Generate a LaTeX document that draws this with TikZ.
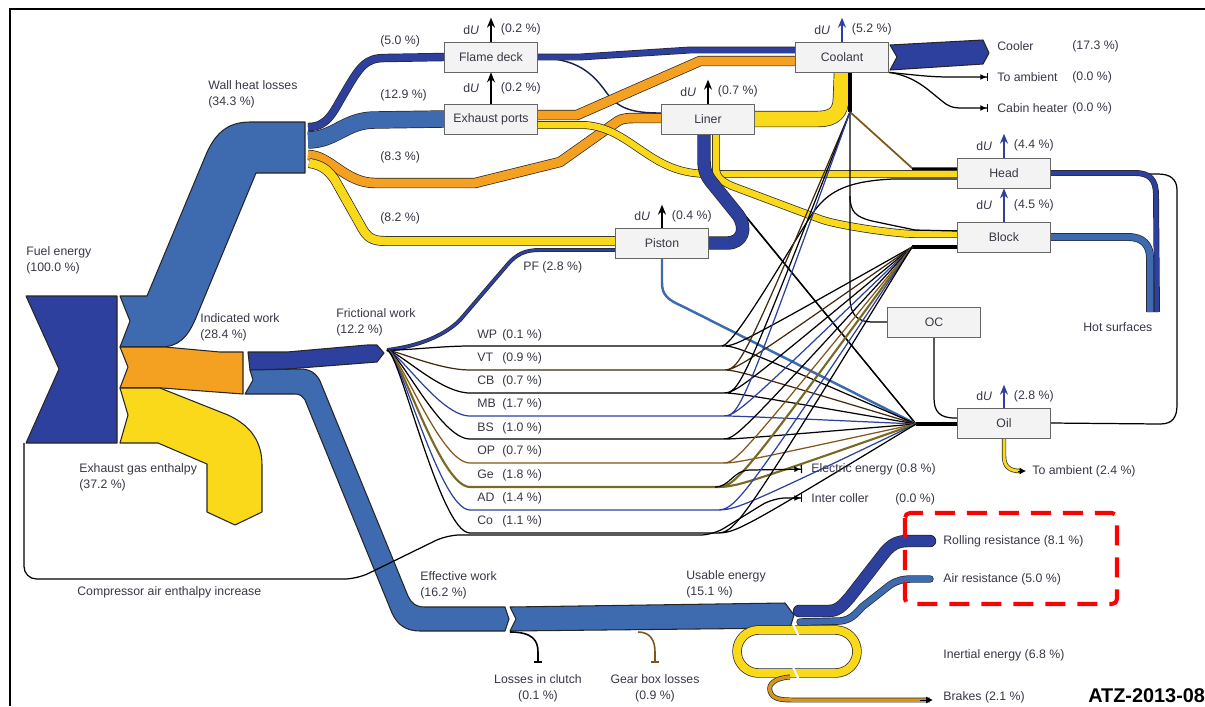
\documentclass[tikz,border=0pt]{standalone}
\usepackage{fontspec}
\setmainfont{Liberation Sans}
\usetikzlibrary{
    arrows.meta, % for the arrow and bar tips
    backgrounds  % the flows lie behind the part boxes
}

\definecolor{fuelblue}{RGB}{45,64,158}
\definecolor{wallblue}{RGB}{62,106,176}
\definecolor{workorange}{RGB}{244,160,33}
\definecolor{gasyellow}{RGB}{250,216,26}
\definecolor{brakeorange}{RGB}{214,150,30}
\definecolor{lossbrown}{RGB}{130,85,25}
\definecolor{oliveline}{RGB}{120,105,35}
\definecolor{labelgray}{RGB}{55,55,70}
\definecolor{boxgray}{RGB}{243,243,243}

\begin{document}
\begin{tikzpicture}[
    x=0.2mm,y=-0.2mm,font=\fontsize{7}{9}\selectfont,text=labelgray,
    part/.style        = {draw=black!60,fill=boxgray,minimum width=18.6mm,minimum height=6mm,inner sep=0pt},
    lbl/.style         = {anchor=west,inner sep=0pt,align=left},
    flow/.style        = {draw=black!85,line width=0.6pt,fill=#1,line join=round},
    band/.style 2 args = {draw=black!85,line width=0.4pt,double=#1,double distance=#2,line join=round},
    wire/.style        = {draw=#1,line width=0.7pt},
    wire/.default      = black,
    du/.style          = {draw=#1,line width=1.1pt,-{Stealth[length=2mm,width=1.6mm]}},
    duleft/.style      = {midway,anchor=east,inner sep=0pt,xshift=-2.2mm},
    duright/.style     = {midway,anchor=west,inner sep=0pt,xshift=1.8mm},
    endtip/.style      = {-{Latex[length=1.3mm,width=1.2mm]Bar[width=1.6mm]}},
    bartip/.style      = {-{Bar[width=1.6mm]}}
]
\useasboundingbox (0,0) rectangle (1205,706);

% engine parts

    \node [part] (flame)   at (491,57)  {Flame deck};
    \node [part] (exports) at (491,119) {Exhaust ports};
    \node [part] (liner)   at (708,119) {Liner};
    \node [part] (coolant) at (842,57)  {Coolant};
    \node [part] (piston)  at (662,243) {Piston};
    \node [part] (head)    at (1004,173) {Head};
    \node [part] (block)   at (1004,237) {Block};
    \node [part] (oc)      at (934,322) {OC};
    \node [part] (oil)     at (1004,423) {Oil};

    \draw [du=black]    (flame.north) -- ++(0,-24)
        node [duleft] {d\textit{U}} node [duright] {(0.2 \%)};
    \draw [du=black]    (exports.north) -- (flame.south)
        node [duleft] {d\textit{U}} node [duright] {(0.2 \%)};
    \draw [du=black]    (liner.north) -- ++(0,-24)
        node [duleft] {d\textit{U}} node [duright] {(0.7 \%)};
    \draw [du=fuelblue] (coolant.north) -- ++(0,-24)
        node [duleft] {d\textit{U}} node [duright] {(5.2 \%)};
    \draw [du=black]    (piston.north) -- ++(0,-23)
        node [duleft] {d\textit{U}} node [duright] {(0.4 \%)};
    \draw [du=fuelblue] (head.north) -- ++(0,-24)
        node [duleft] {d\textit{U}} node [duright] {(4.4 \%)};
    \draw [du=fuelblue] (block.north) -- (head.south)
        node [duleft] {d\textit{U}} node [duright] {(4.5 \%)};
    \draw [du=fuelblue] (oil.north) -- ++(0,-23)
        node [duleft] {d\textit{U}} node [duright] {(2.8 \%)};

% labels

    \node [lbl]         at (26,260)   {Fuel energy\\(100.0 \%)};
    \node [lbl]         at (208,94)   {Wall heat losses\\(34.3 \%)};
    \node [lbl]         at (380,41)   {(5.0 \%)};
    \node [lbl]         at (380,95)   {(12.9 \%)};
    \node [lbl]         at (380,157)  {(8.3 \%)};
    \node [lbl]         at (380,218)  {(8.2 \%)};
    \node [lbl]         at (200,327)  {Indicated work\\(28.4 \%)};
    \node [lbl]         at (336,322)  {Frictional work\\(12.2 \%)};
    \node [lbl]         at (79,477)   {Exhaust gas enthalpy\\(37.2 \%)};
    \node [lbl]         at (77,592)   {Compressor air enthalpy increase};
    \node [lbl]         at (420,585)  {Effective work\\(16.2 \%)};
    \node [lbl]         at (686,584)  {Usable energy\\(15.1 \%)};
    \node [lbl]         at (523,267)  {PF (2.8 \%)};
    \node [lbl]         at (1083,327) {Hot surfaces};
    \node [lbl] (cooler)   at (997,46)  {Cooler};
    \node [lbl]            at (1072,46) {(17.3 \%)};
    \node [lbl] (ambient)  at (997,77)  {To ambient};
    \node [lbl]            at (1072,77) {(0.0 \%)};
    \node [lbl] (cabin)    at (997,108) {Cabin heater};
    \node [lbl]            at (1072,108) {(0.0 \%)};
    \node [lbl] (electric) at (811,469) {Electric energy (0.8 \%)};
    \node [lbl] (intercooler) at (811,498) {Inter coller};
    \node [lbl]            at (895,499) {(0.0 \%)};
    \node [lbl] (oilamb)   at (1032,471) {To ambient (2.4 \%)};
    \node [lbl] (rolling)  at (943,541) {Rolling resistance (8.1 \%)};
    \node [lbl] (air)      at (943,579) {Air resistance (5.0 \%)};
    \node [lbl] (inertial) at (943,655) {Inertial energy (6.8 \%)};
    \node [lbl] (brakes)   at (943,697) {Brakes (2.1 \%)};
    \node [align=center,inner sep=0pt] (clutch)  at (538,688) {Losses in clutch\\(0.1 \%)};
    \node [align=center,inner sep=0pt] (gearbox) at (655,688) {Gear box losses\\(0.9 \%)};

    \node [lbl] at (477,335) {\makebox[5mm][l]{WP}(0.1 \%)};
    \node [lbl] at (477,358) {\makebox[5mm][l]{VT}(0.9 \%)};
    \node [lbl] at (477,381) {\makebox[5mm][l]{CB}(0.7 \%)};
    \node [lbl] at (477,404) {\makebox[5mm][l]{MB}(1.7 \%)};
    \node [lbl] at (477,428) {\makebox[5mm][l]{BS}(1.0 \%)};
    \node [lbl] at (477,451) {\makebox[5mm][l]{OP}(0.7 \%)};
    \node [lbl] at (477,475) {\makebox[5mm][l]{Ge}(1.8 \%)};
    \node [lbl] at (477,498) {\makebox[5mm][l]{AD}(1.4 \%)};
    \node [lbl] at (477,521) {\makebox[5mm][l]{Co}(1.1 \%)};

    \node [anchor=base west,inner sep=0pt,text=black,font=\fontsize{11.3}{12}\selectfont\bfseries] at (1088,702) {ATZ-2013-08};

    \coordinate (fric)     at (387,350);
    \coordinate (coolstem) at (850,112);
    \coordinate (blockfan) at (912,247);
    \coordinate (oilfan)   at (916,424);

\begin{scope}[on background layer]

% frame
    \draw [line width=0.9pt] (10,706) |- (1205,9);

% main flows
    \draw [flow=fuelblue]   (26,296) -- (117,296) -- (117,443) -- (26,443) -- (59,369) -- cycle;
    \draw [flow=wallblue]   (120,296) -- (147,296) -- (205,157) .. controls (214,135) and (226,122) .. (250,122)
        -- (305,122) -- (305,173) -- (256,173) -- (195,320) .. controls (187,338) and (178,347) .. (160,347)
        -- (120,347) -- (130,321) -- cycle;
    \draw [flow=workorange] (120,347) -- (165,347) -- (220,352) -- (243,352) -- (243,394) -- (162,388)
        -- (120,388) -- (128,367) -- cycle;
    \draw [flow=gasyellow]  (120,388) -- (160,388) -- (228,415) .. controls (252,426) and (262,443) .. (262,465)
        -- (262,512) -- (235,525) -- (207,512) -- (207,464) -- (158,443) -- (120,443) -- (128,415) -- cycle;
    \draw [flow=fuelblue]   (248,352) -- (287,352) -- (367,345) -- (377,345) -- (384,353) -- (377,362)
        -- (287,369) -- (250,370) -- cycle;
    \draw [flow=wallblue]   (250,370) -- (300,369) .. controls (310,369) and (316,373) .. (320,381)
        -- (408,596) .. controls (412,604) and (416,607) .. (425,607) -- (505,607) -- (509,619) -- (505,631)
        -- (420,631) .. controls (405,631) and (397,624) .. (392,613) -- (305,400)
        .. controls (302,396) and (300,394) .. (295,394) -- (245,394) -- (253,380) -- cycle;
    \draw [flow=wallblue]   (510,607) -- (785,603) -- (794,615) -- (790,628) -- (510,631) -- (516,619) -- cycle;
    \draw [flow=fuelblue]   (890,45) -- (983,40) -- (989,53) -- (983,64) -- (890,70) -- (897,57) -- cycle;

% wall heat to the parts
    \draw [band={fuelblue}{1.4mm}]   (308,127) .. controls (328,127) and (333,112) .. (345,92)
        .. controls (360,66) and (366,58) .. (385,58) -- (flame.west);
    \draw [band={wallblue}{3.2mm}]   (308,140) .. controls (335,140) and (345,120) .. (375,120) -- (exports.west);
    \draw [band={workorange}{1.8mm}] (308,155) .. controls (330,155) and (345,183) .. (375,183) -- (475,183)
        -- (560,162) -- (618,121) .. controls (623,118) and (628,118) .. (640,118) -- (liner.west |- 0,118);
    \draw [band={gasyellow}{1.7mm}]  (309,163) .. controls (322,165) and (328,170) .. (335,180) -- (362,228)
        .. controls (367,237) and (372,241) .. (385,241) -- (piston.west |- 0,241);

% between the parts
    \draw [wire=fuelblue!50!black,line width=0.8pt] (flame.east |- 0,58) .. controls (575,58) and (592,72) .. (606,92)
        .. controls (618,108) and (630,113) .. (liner.west |- 0,113);
    \draw [band={fuelblue}{1.1mm}]   (flame.east) -- (580,57) -- (690,50) -- (coolant.west |- 0,50);
    \draw [band={workorange}{1.8mm}] (exports.east |- 0,115) -- (577,115) -- (700,61) -- (coolant.west |- 0,61);
    \draw [band={gasyellow}{1.3mm}]  (exports.east |- 0,125) -- (585,125) .. controls (612,127) and (628,142) .. (650,156)
        .. controls (672,170) and (688,174) .. (712,174) -- (head.west |- 0,174);
    \draw [band={gasyellow}{3mm}]    (liner.east) -- (818,119) .. controls (834,119) and (841,112) .. (841,98)
        -- (coolant.south);
    \draw [wire] (liner.south -| 709,0) -- (709,172) -- (oilfan);
    \draw [wire] (liner.south -| 713,0) -- (713,176) -- (oilfan);
    \draw [band={gasyellow}{1.3mm}]  (liner.south -| 716,0) -- (716,168) .. controls (716,177) and (721,181) .. (732,186)
        -- (820,219) .. controls (835,225) and (895,234) .. (915,234) -- (block.west |- 0,234);
    \draw [band={fuelblue}{2.4mm}]   (piston.east) -- (727,243) .. controls (743,243) and (747,228) .. (738,215)
        -- (713,184) .. controls (706,176) and (704,170) .. (704,160) -- (liner.south -| 704,0);
    \draw [wire=wallblue,line width=1.4pt] (piston.south) -- (662,283) .. controls (662,295) and (668,300) .. (682,306)
        -- (oilfan);

% coolant side
    \draw [line width=2pt] (coolant.south -| 850,0) -- (coolstem);
    \draw [wire] (coolstem) -- (850,298) .. controls (850,315) and (858,322) .. (872,322) -- (oc.west);
    \draw [wire] (850,196) .. controls (850,212) and (856,217) .. (872,221) -- (915,230) -- (block.west |- 0,231);
    \draw [wire=lossbrown,line width=1pt] (coolstem) -- (912,168) -- (head.west |- 0,168);
    \draw [line width=1.6pt] (912,169) -- (head.west |- 0,169);
    \draw [wire,endtip,shorten >=1.8mm] (coolant.south east) .. controls (915,75) and (930,77) .. (950,77) -- (ambient.west);
    \draw [wire,endtip,shorten >=1.8mm] (coolant.south east) .. controls (915,76) and (928,90) .. (942,101)
        .. controls (948,106) and (952,108) .. (962,108) -- (cabin.west);

% head, block and oil
    \draw [wire] (oil.east) -- (1160,424) .. controls (1172,424) and (1177,418) .. (1177,405) -- (1177,190)
        .. controls (1177,179) and (1170,174) .. (1158,174) -- (head.east);
    \draw [band={fuelblue}{0.9mm}] (head.east) -- (1135,173) .. controls (1150,173) and (1156,180) .. (1156,195) -- (1157,312);
    \draw [band={wallblue}{1.3mm}] (block.east) -- (1128,237) .. controls (1143,237) and (1150,245) .. (1150,258) -- (1150,312);
    \draw [wire] (oc.south) -- (934,398) .. controls (934,412) and (940,418) .. (955,418) -- (oil.west |- 0,418);
    \draw [line width=1.8pt] (blockfan) -- (block.west |- blockfan);
    \draw [line width=2.6pt] (oilfan) -- (oil.west |- oilfan);
    \draw [band={gasyellow}{0.6mm},shorten >=2.4mm] (oil.south) -- (1004,456) .. controls (1004,467) and (1010,471) .. (1020,471)
        -- (oilamb.west);
    \draw [-{Latex[length=1.3mm,width=1.4mm]},line width=0.5pt,shorten >=1.2mm] (1018,471) -- (oilamb.west);

% frictional work
    \draw [band={fuelblue}{0.5mm}] (fric) .. controls (420,346) and (445,335) .. (460,320) -- (508,264)
        .. controls (517,254) and (525,250) .. (540,250) -- (piston.west |- 0,250);
    \draw [wire] (fric) .. controls (400,351) and (440,346) .. (470,346) -- (722,346) coordinate (wp)
        .. controls (736,346) .. (blockfan) (wp) .. controls (736,346) .. (oilfan);
    \draw [wire] (wp) .. controls (735,346) and (800,230) .. (815,210) .. controls (830,190) and (850,181) .. (893,179)
        -- (head.west |- 0,179);
    \draw [wire=lossbrown!50!black] (fric) .. controls (400,352) and (440,370) .. (470,370) -- (722,370) coordinate (vt)
        .. controls (736,370) .. (blockfan) (vt) .. controls (736,370) .. (oilfan) (vt) .. controls (740,370) .. (coolstem);
    \draw [wire] (fric) .. controls (400,352) and (440,393) .. (470,393) -- (722,393) coordinate (cb)
        .. controls (736,393) .. (blockfan) (cb) .. controls (736,393) .. (oilfan) (cb) .. controls (740,393) .. (coolstem);
    \draw [wire=fuelblue] (fric) .. controls (400,352) and (440,416) .. (470,416) -- (722,416) coordinate (mb)
        .. controls (736,416) .. (blockfan) (mb) .. controls (736,416) .. (oilfan) (mb) .. controls (740,416) .. (coolstem);
    \draw [wire] (fric) .. controls (400,352) and (440,439) .. (470,439) -- (722,439) coordinate (bs)
        .. controls (736,439) .. (blockfan) (bs) .. controls (736,439) .. (oilfan);
    \draw [wire=lossbrown] (fric) .. controls (400,352) and (440,463) .. (470,463) -- (722,463) coordinate (op)
        .. controls (736,463) .. (blockfan) (op) .. controls (736,463) .. (oilfan);
    \draw [wire=oliveline,line width=1.2pt] (fric) .. controls (400,352) and (440,487) .. (470,487) -- (715,487) coordinate (ge)
        .. controls (736,487) .. (blockfan) (ge) .. controls (736,487) .. (oilfan);
    \draw [wire,endtip,shorten >=1.8mm] (ge) .. controls (730,487) and (733,470) .. (750,470) -- (electric.west);
    \draw [wire=fuelblue] (fric) .. controls (400,352) and (440,510) .. (470,510) -- (715,510) coordinate (ad)
        .. controls (736,510) .. (blockfan) (ad) .. controls (736,510) .. (oilfan);
    \draw [wire] (fric) .. controls (400,352) and (440,533) .. (470,533) -- (715,533) coordinate (co)
        .. controls (736,533) .. (blockfan) (co) .. controls (736,533) .. (oilfan);
    \draw [wire,rounded corners=2.5mm,endtip,shorten >=1.8mm] (24,443) -- (24,579) -- (357,579) -- (447,535)
        -- (713,535) -- (773,498) -- (intercooler.west);

% effective work to the wheels
    \draw [wire,line width=0.9pt,bartip,shorten >=2.2mm] (510,632) .. controls (532,632) and (538,640) .. (538,652)
        -- (clutch.north);
    \draw [wire=lossbrown,line width=0.9pt,bartip,shorten >=2.2mm] (638,632) .. controls (650,632) and (655,640) .. (655,652)
        -- (gearbox.north);
    \draw [band={gasyellow}{1.6mm},rounded corners=4.3mm] (737,630) rectangle (857,673);
    \draw [white,line width=1.2pt] (793,624) -- (799,637) (793,667) -- (799,680);
    \draw [band={brakeorange}{0.7mm},shorten >=2.6mm] (790,677) .. controls (775,678) and (768,684) .. (770,691)
        .. controls (772,698) and (778,700) .. (792,700) -- (brakes.west |- 0,700);
    \draw [-{Latex[length=1.4mm,width=1.4mm]},line width=0.5pt,shorten >=2mm] (920,700) -- (brakes.west |- 0,700);
    \draw [band={fuelblue}{2.2mm},line cap=round,shorten >=2.6mm] (799,611) -- (828,611)
        .. controls (838,611) and (842,606) .. (850,597) -- (885,552) .. controls (892,544) and (898,541) .. (908,541)
        -- (rolling.west);
    \draw [band={wallblue}{1.2mm},line cap=round,shorten >=2.6mm] (800,622) -- (840,621)
        .. controls (850,620) and (855,615) .. (862,607) -- (890,585) .. controls (898,580) and (903,579) .. (912,579)
        -- (air.west);

\end{scope}

% highlight
    \draw [red,line width=2.3pt,dash pattern=on 4mm off 2.4mm,rounded corners=1mm] (905,513) rectangle (1117,604);

\end{tikzpicture}
\end{document}
